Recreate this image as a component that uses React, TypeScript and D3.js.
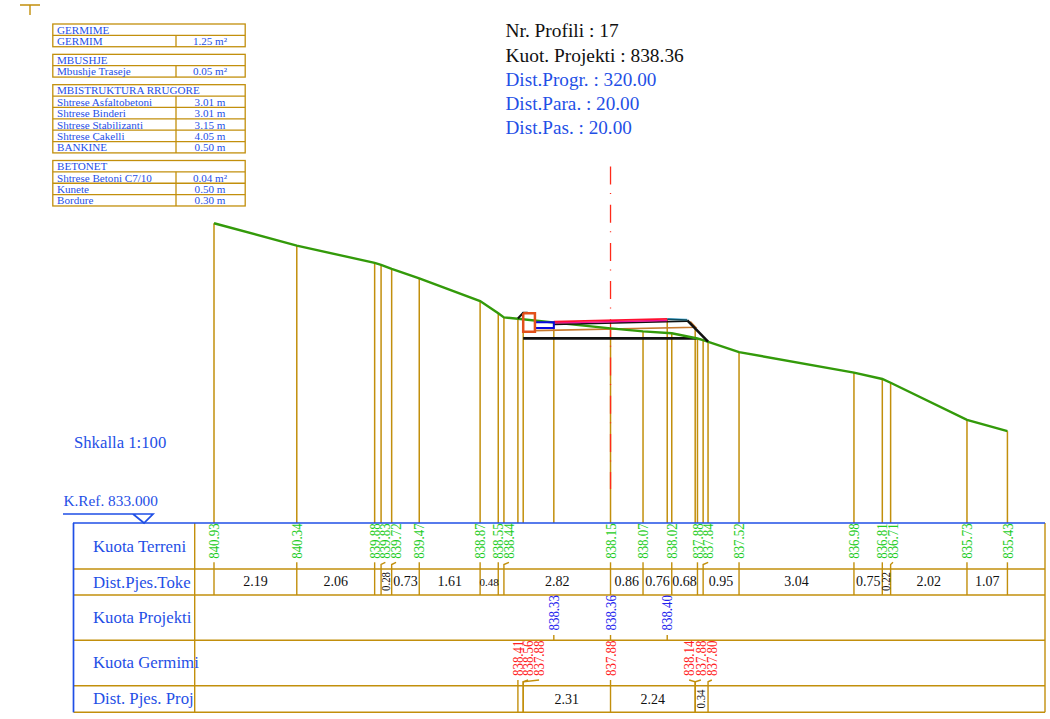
import React from "react";
import * as d3 from "d3";

// ground survey (terreni)
const groundElev = [840.93, 840.34, 839.88, 839.83, 839.72, 839.47, 838.87, 838.55, 838.44, 838.15, 838.07, 838.02, 837.88, 837.84, 837.52, 836.98, 836.81, 836.71, 835.73, 835.43];
const groundDist = [2.19, 2.06, 0.17, 0.28, 0.73, 1.61, 0.48, 0.15, 2.82, 0.86, 0.76, 0.68, 0.15, 0.95, 3.04, 0.75, 0.22, 2.02, 1.07];
const hiddenGroundDist = [0.17, 0.15];

// project section
const axisStation = 10.49;
const projStations = [8.99, 10.49, 11.99];
const projElev = [838.33, 838.36, 838.4];
const germStart = 8.04;
const germDist = [0.14, 2.31, 2.24, 0.34];
const hiddenGermDist = [0.14];
const germLabels = ["838.41", "838.56", "837.88", "837.88", "838.14", "837.88", "837.80"];
const germLabelStations = [8.04, 8.31, 8.6, 10.49, 12.57, 12.88, 13.17];
const germLabelTicks = [8.04, 8.18, 8.18, 10.49, 12.73, 12.73, 13.07];
const germPostElev = [838.41, 838.56, 837.88, 838.14, 837.8];

// road layers, [station, elevation]
const redLayer: [number, number][] = [[8.99, 838.33], [11.99, 838.4]];
const magentaLayer: [number, number][] = [[8.99, 838.29], [11.99, 838.36]];
const shoulderLayer: [number, number][] = [[11.99, 838.39], [12.52, 838.37]];
const shoulderTop: [number, number][] = [[11.99, 838.41], [12.52, 838.39]];
const binderLayer: [number, number][] = [[8.99, 838.25], [12.52, 838.34]];
const slopeLine: [number, number][] = [[12.52, 838.36], [13.07, 837.8]];
const subbaseLine: [number, number][] = [[8.49, 838.09], [12.74, 838.18], [12.6, 838.33]];
const excavBase: [number, number][] = [[8.18, 837.885], [12.77, 837.885]];
const excavLeft: [number, number][] = [[8.04, 838.41], [8.18, 838.56], [8.3, 838.56]];
const kerbBox: [number, number][] = [[8.18, 838.55], [8.49, 838.55], [8.49, 838.06], [8.18, 838.06], [8.18, 838.55]];
const drainBox: [number, number][] = [[8.49, 838.31], [8.99, 838.31], [8.99, 838.16], [8.49, 838.16]];

// header
const headerBlack = ["Nr. Profili : 17", "Kuot. Projekti : 838.36"];
const headerBlue = ["Dist.Progr. : 320.00", "Dist.Para. : 20.00", "Dist.Pas. : 20.00"];

// quantities table
const legendTitles = ["GERMIME", "MBUSHJE", "MBISTRUKTURA RRUGORE", "BETONET"];
const legendNames = [
  ["GERMIM"],
  ["Mbushje Traseje"],
  ["Shtrese Asfaltobetoni", "Shtrese Binderi", "Shtrese Stabilizanti", "Shtrese Çakelli", "BANKINE"],
  ["Shtrese Betoni C7/10", "Kunete", "Bordure"],
];
const legendValues = [
  ["1.25 m²"],
  ["0.05 m²"],
  ["3.01 m", "3.01 m", "3.15 m", "4.05 m", "0.50 m"],
  ["0.04 m²", "0.50 m", "0.30 m"],
];

const rowLabels = ["Kuota Terreni", "Dist.Pjes.Toke", "Kuota Projekti", "Kuota Germimi", "Dist. Pjes. Proj"];
const rowBaselines = [552, 588, 623, 668, 704];
const rowLines = [569, 595, 640.3, 685.7, 712.3];

const GOLD = "#c28f0c";
const BLUE = "#1f4fe6";
const SERIF = "'Liberation Serif', serif";

const totalDist = d3.sum(groundDist);
const x = d3.scaleLinear().domain([0, totalDist]).range([214, 214 + totalDist * 37.8]);
const y = d3.scaleLinear().domain([833, 841]).range([523, 523 - 8 * 37.8]);
const lineGen = d3.line<[number, number]>().x((d) => x(d[0])).y((d) => y(d[1]));

const groundStations = [0, ...d3.cumsum(groundDist)];
const germStations = [germStart, ...d3.cumsum(germDist).map((d) => germStart + d)];
const groundPts = groundStations.map((s, i) => [s, groundElev[i]] as [number, number]);

// labels are pushed right so that they do not sit on each other
const groundLabelX: number[] = [];
groundStations.forEach((s, i) => {
  const px = x(s);
  groundLabelX.push(i === 0 ? px : Math.max(px, groundLabelX[i - 1] + 10.7));
});

function VLabel({ cx, top, text, color, len = 35.5, size = 15.5 }: any) {
  const bx = cx + size * 0.33;
  return (
    <text
      transform={`translate(${bx},${top + len}) rotate(-90)`}
      fontSize={size}
      fill={color}
      textLength={len}
      lengthAdjust="spacingAndGlyphs"
    >
      {text}
    </text>
  );
}

function DistLabels({ stations, dists, hidden, baseline, rotBottom }: any) {
  return dists.map((d: number, i: number) => {
    if (hidden.includes(d)) return null;
    const x0 = x(stations[i]);
    const x1 = x(stations[i + 1]);
    const w = x1 - x0;
    const mid = (x0 + x1) / 2;
    const label = d.toFixed(2);
    if (w < 14) {
      return <VLabel key={i} cx={mid} top={rotBottom - 19} len={19} size={11.5} text={label} color="#111" />;
    }
    return (
      <text key={i} x={mid} y={baseline} textAnchor="middle" fontSize={w < 20 ? 11 : 14} fill="#111">
        {label}
      </text>
    );
  });
}

function Legend() {
  const rowH = 11.37;
  let top = 24;
  return (
    <g fontSize={11.1} fill={BLUE}>
      {legendTitles.map((title, g) => {
        const names = legendNames[g];
        const y0 = top;
        const h = rowH * (names.length + 1);
        top += h + 7.6;
        return (
          <g key={title}>
            <rect x={52.8} y={y0} width={192.4} height={h} fill="none" stroke={GOLD} strokeWidth={1.3} />
            <text x={57} y={y0 + rowH - 1.6}>{title}</text>
            <line x1={176} x2={176} y1={y0 + rowH} y2={y0 + h} stroke={GOLD} strokeWidth={1.3} />
            {names.map((n, i) => {
              const ry = y0 + rowH * (i + 1);
              return (
                <g key={n}>
                  <line x1={52.8} x2={245.2} y1={ry} y2={ry} stroke={GOLD} strokeWidth={1.3} />
                  <text x={57} y={ry + rowH - 1.6}>{n}</text>
                  <text x={210} y={ry + rowH - 1.6} textAnchor="middle">{legendValues[g][i]}</text>
                </g>
              );
            })}
          </g>
        );
      })}
    </g>
  );
}

export default function App() {
  const postEnd = y(833);
  return (
    <svg width={1050} height={719} style={{ position: "absolute", left: 0, top: 0, background: "#fff" }} fontFamily={SERIF}>
      {/* stray block marker */}
      <path d="M20,5H40M30,5V15" fill="none" stroke={GOLD} strokeWidth={1.4} />

      <Legend />

      {headerBlack.map((t, i) => (
        <text key={t} x={505.5} y={36.7 + i * 25} fontSize={19.4} fill="#111">{t}</text>
      ))}
      {headerBlue.map((t, i) => (
        <text key={t} x={505.5} y={86 + i * 24.2} fontSize={19.2} fill={BLUE}>{t}</text>
      ))}

      <text x={74} y={448} fontSize={16.7} fill={BLUE}>Shkalla 1:100</text>
      <text x={63.5} y={506} fontSize={15.3} fill={BLUE}>K.Ref. 833.000</text>
      <path d="M63,514H153L144,523L133,514" fill="none" stroke={BLUE} strokeWidth={1.7} />

      {/* posts from the ground and the section down to the reference line */}
      <g stroke={GOLD} strokeWidth={1.5}>
        {groundPts.map((p, i) => (
          <line key={i} x1={x(p[0])} x2={x(p[0])} y1={y(p[1])} y2={postEnd} />
        ))}
        {projStations.filter((s) => s !== axisStation).map((s) => (
          <line key={s} x1={x(s)} x2={x(s)} y1={y(projElev[projStations.indexOf(s)])} y2={postEnd} />
        ))}
        {[germStations[0], germStations[1], germStations[3], germStations[4]].map((s, i) => (
          <line key={s} x1={x(s)} x2={x(s)} y1={y(germPostElev[i === 0 ? 0 : i === 1 ? 1 : i + 1])} y2={postEnd} />
        ))}
      </g>

      {/* axis */}
      <line
        x1={x(axisStation)}
        x2={x(axisStation)}
        y1={166.5}
        y2={489}
        stroke="#ff2a1a"
        strokeWidth={1.3}
        strokeDasharray="18 8.5 1 10.7"
      />

      {/* section */}
      <g fill="none" strokeLinejoin="miter">
        <path d={lineGen(excavBase)!} stroke="#111" strokeWidth={2.6} />
        <path d={lineGen(subbaseLine)!} stroke="#c77a2e" strokeWidth={1.6} />
        <path d={lineGen(groundPts)!} stroke="#339a0a" strokeWidth={2.4} />
        <path d={lineGen(excavLeft)!} stroke="#111" strokeWidth={2.2} />
        <path d={lineGen(binderLayer)!} stroke="#111" strokeWidth={1.6} />
        <path d={lineGen(slopeLine)!} stroke="#111" strokeWidth={2.6} />
        <path d={lineGen(shoulderTop)!} stroke="#58b4dc" strokeWidth={1.2} />
        <path d={lineGen(shoulderLayer)!} stroke="#0d4f63" strokeWidth={1.6} />
        <path d={lineGen(magentaLayer)!} stroke="#f0109a" strokeWidth={1.6} />
        <path d={lineGen(redLayer)!} stroke="#ff1030" strokeWidth={1.8} />
        <path d={lineGen(drainBox)!} stroke="#0808e0" strokeWidth={2} />
        <path d={lineGen(kerbBox)!} stroke="#e2501a" strokeWidth={2.5} />
      </g>

      {/* guitar */}
      <g stroke={GOLD} strokeWidth={1.4} fill="none">
        {rowLines.map((ly) => (
          <line key={ly} x1={73.5} x2={1045} y1={ly} y2={ly} />
        ))}
        <line x1={194.7} x2={194.7} y1={523} y2={712.3} />
        <line x1={1045} x2={1045} y1={523} y2={712.3} />
        {/* terreni ticks */}
        {groundStations.map((s, i) => (
          <path key={i} d={`M${groundLabelX[i]},562.3L${x(s)},${groundLabelX[i] === x(s) ? 562.3 : 564.5}V595`} />
        ))}
        {/* projekti ticks */}
        {projStations.map((s) => (
          <line key={s} x1={x(s)} x2={x(s)} y1={635} y2={640} />
        ))}
        {/* germimi ticks */}
        {germLabelStations.map((s, i) => (
          <path key={i} d={`M${x(s)},680L${x(germLabelTicks[i])},${s === germLabelTicks[i] ? 680 : 681.8}V712.3`} />
        ))}
      </g>
      <line x1={73} x2={1045} y1={523} y2={523} stroke={BLUE} strokeWidth={1.7} />
      <line x1={73.5} x2={73.5} y1={523} y2={712.3} stroke={BLUE} strokeWidth={1.7} />

      {rowLabels.map((t, i) => (
        <text key={t} x={93} y={rowBaselines[i]} fontSize={16.8} fill={BLUE}>{t}</text>
      ))}

      {groundElev.map((v, i) => (
        <VLabel key={i} cx={groundLabelX[i]} top={523.3} text={v.toFixed(2)} color="#22cc22" />
      ))}
      <DistLabels stations={groundStations} dists={groundDist} hidden={hiddenGroundDist} baseline={586} rotBottom={591} />

      {projElev.map((v, i) => (
        <VLabel key={i} cx={x(projStations[i])} top={595} text={v.toFixed(2)} color="#2323ee" />
      ))}

      {germLabels.map((t, i) => (
        <VLabel key={i} cx={x(germLabelStations[i])} top={640.5} text={t} color="#ff2020" />
      ))}
      <DistLabels stations={germStations} dists={germDist} hidden={hiddenGermDist} baseline={704} rotBottom={708.5} />
    </svg>
  );
}
